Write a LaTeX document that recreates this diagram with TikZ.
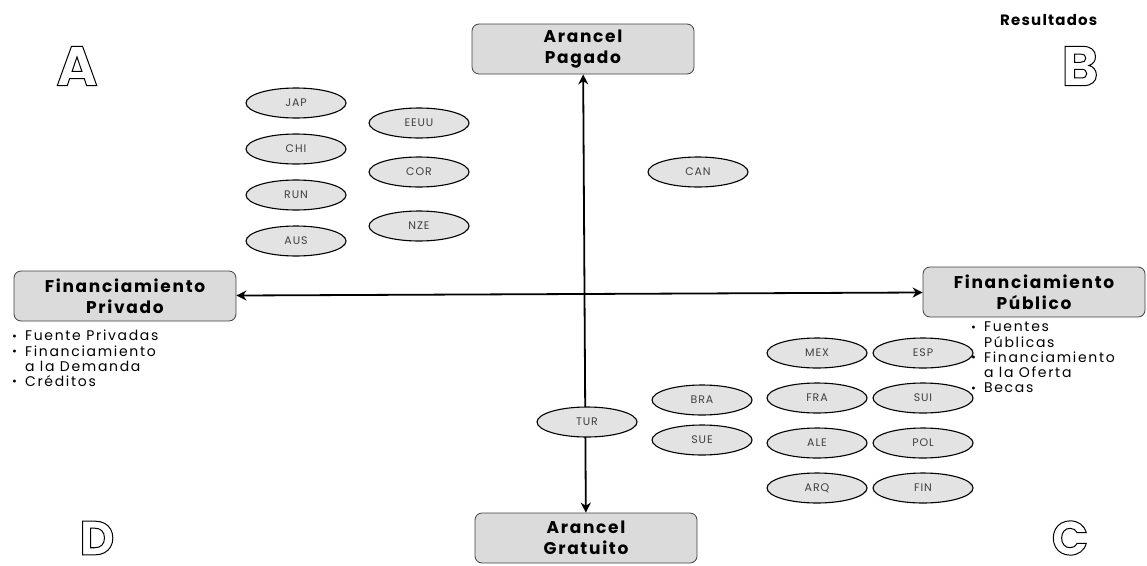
\documentclass[tikz,border=0pt]{standalone}
\usepackage{fontspec}
\setmainfont{Poppins}
\usetikzlibrary{shapes.geometric,arrows.meta}
\newcommand{\outlinetext}[1]{\special{pdf:literal direct 1 Tr 1 w}#1\special{pdf:literal direct 0 Tr}}
\newcommand{\bul}{\raisebox{0.5pt}{\scalebox{0.85}{•}}}
\tikzset{
  quadbox/.style={rectangle, rounded corners=7pt, draw=black!75, line width=0.8pt,
    fill=gray!28, minimum width=222pt, minimum height=50pt, align=center,
    inner sep=2pt, font=\fontsize{17}{21}\selectfont\bfseries\addfontfeatures{LetterSpace=10}},
  country/.style={ellipse, draw=black, line width=1.1pt, fill=gray!22,
    minimum width=100pt, minimum height=30pt, inner sep=0pt,
    font=\fontsize{11}{11}\selectfont\addfontfeatures{LetterSpace=8}, text=black!75},
  axis/.style={line width=1.8pt, {Stealth[length=10pt,width=10pt]}-{Stealth[length=10pt,width=10pt]}},
  bigletter/.style={font=\fontsize{56}{56}\selectfont\bfseries, inner sep=0pt},
  smallletter/.style={font=\fontsize{48}{48}\selectfont\bfseries, inner sep=0pt},
  bullets/.style={font=\fontsize{14}{15}\selectfont\addfontfeatures{LetterSpace=12}, inner sep=0pt, align=left}
}
\begin{document}
\begin{tikzpicture}[x=1pt,y=-1pt]
\useasboundingbox (0,0) rectangle (1147,565);
% quadrant boxes
\node[quadbox] (pagado) at (583,49) {Arancel\\Pagado};
\node[quadbox] (gratuito) at (586,538) {Arancel\\Gratuito};
\node[quadbox] (privado) at (125,296) {Financiamiento\\Privado};
\node[quadbox] (publico) at (1034,292) {Financiamiento\\Público};
% axes
\draw[axis] (pagado) -- (gratuito);
\draw[axis] (privado) -- (publico);
% countries
\node[country] (jap) at (296,103) {JAP};
\node[country] (chi) at (296,149) {CHI};
\node[country] (run) at (296,195) {RUN};
\node[country] (aus) at (296,241) {AUS};
\node[country] (eeuu) at (419,123) {EEUU};
\node[country] (cor) at (419,172) {COR};
\node[country] (nze) at (419,226) {NZE};
\node[country] (can) at (698,172) {CAN};
\node[country] (tur) at (587,422) {TUR};
\node[country] (bra) at (702,400) {BRA};
\node[country] (sue) at (702,440) {SUE};
\node[country] (mex) at (817,353) {MEX};
\node[country] (fra) at (817,398) {FRA};
\node[country] (ale) at (817,443) {ALE};
\node[country] (arq) at (817,488) {ARQ};
\node[country] (esp) at (923,353) {ESP};
\node[country] (sui) at (923,398) {SUI};
\node[country] (pol) at (923,443) {POL};
\node[country] (fin) at (923,488) {FIN};
% bullet lists
\node[bullets, anchor=north west] (privlist) at (12,330) {%
\begin{tabular}{@{}l@{\hspace{8pt}}l@{}}
\bul & Fuente Privadas\\
\bul & Financiamiento\\
 & a la Demanda\\
\bul & Créditos
\end{tabular}};
\node[bullets, anchor=north west] (publist) at (971,321) {%
\begin{tabular}{@{}l@{\hspace{8pt}}l@{}}
\bul & Fuentes\\
 & Públicas\\
\bul & Financiamiento\\
 & a la Oferta\\
\bul & Becas
\end{tabular}};
% title
\node[anchor=west, font=\fontsize{15}{15}\selectfont\bfseries\addfontfeatures{LetterSpace=8}, inner sep=0pt] (res) at (1000,20) {Resultados};
% quadrant letters
\node[bigletter] (la) at (77,66) {\outlinetext{A}};
\node[bigletter] (lb) at (1080,66) {\outlinetext{B}};
\node[smallletter] (lc) at (1070,538) {\outlinetext{C}};
\node[smallletter] (ld) at (97,538) {\outlinetext{D}};
\end{tikzpicture}
\end{document}
